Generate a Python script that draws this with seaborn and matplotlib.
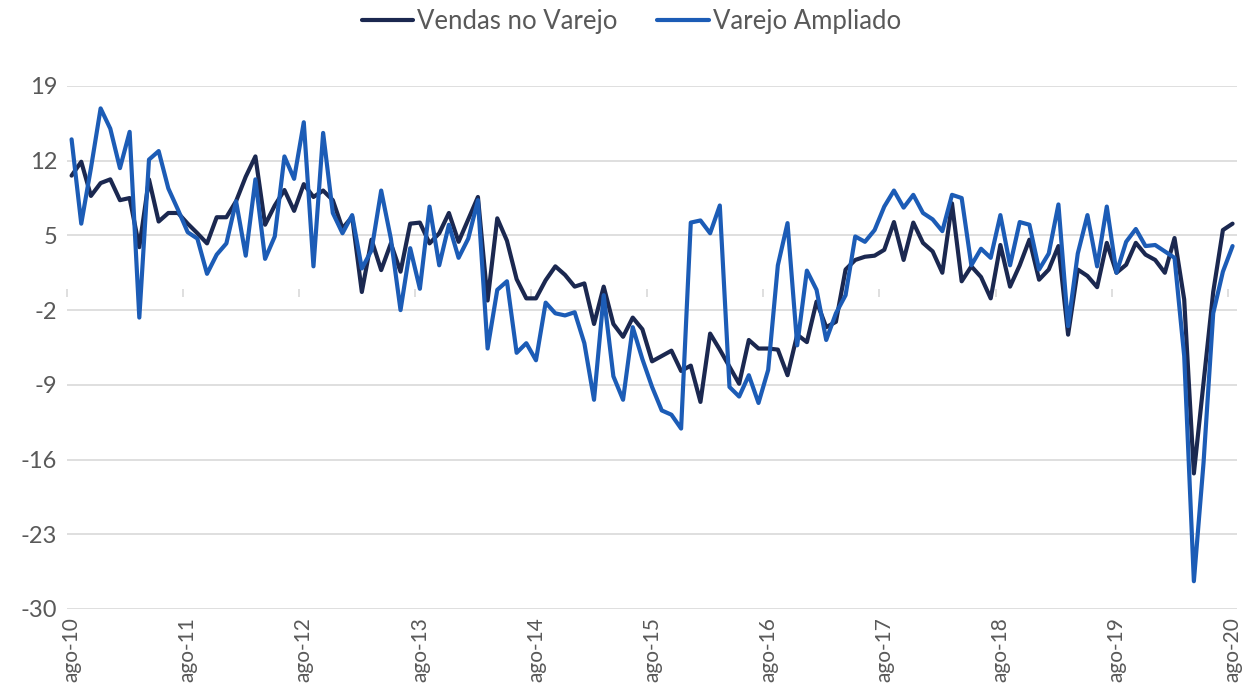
import numpy as np
import pandas as pd
import matplotlib
matplotlib.use("Agg")
import matplotlib.pyplot as plt
import seaborn as sns

# dados mensais ago-10 .. ago-20 (var. % anual)
vendas_varejo = [10.6, 11.9, 8.7, 9.9, 10.25, 8.3, 8.5, 3.9, 10.25, 6.3, 7.1, 7.1,
                 6.1, 5.2, 4.25, 6.7, 6.7, 8.2, 10.5, 12.4, 6.0, 7.8, 9.25, 7.3,
                 9.8, 8.6, 9.2, 8.3, 5.65, 6.75, -0.3, 4.6, 1.75, 4.25, 1.6, 6.1,
                 6.2, 4.25, 5.2, 7.1, 4.4, 6.5, 8.6, -1.1, 6.6, 4.5, 0.9, -0.9,
                 -0.9, 0.8, 2.1, 1.3, 0.2, 0.5, -3.3, 0.2, -3.3, -4.5, -2.7, -3.8,
                 -6.8, -6.3, -5.8, -7.7, -7.2, -10.6, -4.2, -5.7, -7.3, -8.9, -4.8, -5.6,
                 -5.6, -5.7, -8.1, -4.3, -5.0, -1.2, -3.6, -3.1, 1.8, 2.7, 3.0, 3.1,
                 3.65, 6.25, 2.7, 6.2, 4.3, 3.5, 1.5, 8.0, 0.7, 2.1, 1.1, -0.9,
                 4.1, 0.2, 2.2, 4.6, 0.85, 1.8, 4.0, -4.3, 1.8, 1.2, 0.15, 4.3,
                 1.5, 2.25, 4.3, 3.2, 2.7, 1.5, 4.75, -1.0, -17.3, -8.8, -0.3, 5.5,
                 6.1]
varejo_ampliado = [14.0, 6.1, 11.3, 16.9, 15.0, 11.3, 14.7, -2.7, 12.1, 12.9, 9.4, 7.4,
                   5.3, 4.7, 1.4, 3.2, 4.25, 8.2, 3.1, 10.25, 2.8, 4.9, 12.4, 10.3,
                   15.6, 2.1, 14.6, 7.1, 5.2, 6.9, 1.9, 3.6, 9.2, 4.7, -2.0, 3.8,
                   0.0, 7.7, 2.2, 6.0, 2.9, 4.7, 8.3, -5.6, -0.1, 0.7, -6.0, -5.1,
                   -6.7, -1.3, -2.3, -2.5, -2.2, -5.1, -10.4, -0.6, -8.2, -10.4, -3.6, -6.6,
                   -9.2, -11.4, -11.8, -13.1, 6.2, 6.4, 5.2, 7.8, -9.2, -10.1, -8.1, -10.7,
                   -7.6, 2.2, 6.15, -5.3, 1.7, -0.1, -4.8, -2.3, -0.6, 4.9, 4.4, 5.5,
                   7.7, 9.2, 7.6, 8.8, 7.1, 6.5, 5.4, 8.8, 8.5, 2.2, 3.75, 2.9,
                   6.9, 2.2, 6.25, 6.0, 1.8, 3.3, 7.9, -3.5, 3.3, 6.9, 2.1, 7.7,
                   1.5, 4.4, 5.6, 4.0, 4.1, 3.5, 2.9, -6.3, -27.4, -16.3, -2.3, 1.6,
                   4.0]
rotulos_ano = ["ago-10", "ago-11", "ago-12", "ago-13", "ago-14", "ago-15",
               "ago-16", "ago-17", "ago-18", "ago-19", "ago-20"]
series = ["Vendas no Varejo", "Varejo Ampliado"]

meses = np.arange(len(vendas_varejo))
df = pd.DataFrame({
    "mes": np.concatenate([meses, meses]),
    "valor": vendas_varejo + varejo_ampliado,
    "serie": [series[0]] * len(meses) + [series[1]] * len(meses),
})

cores = ["#1B2850", "#1C5CB6"]
cinza = "#595959"
grade = "#D9D9D9"

sns.set_style("white")
plt.rcParams["font.family"] = ["Lato", "DejaVu Sans"]
plt.rcParams["axes.unicode_minus"] = False

fig = plt.figure(figsize=(12.43, 6.85), dpi=100)
ax = fig.add_axes([0.0537, 0.111, 0.9418, 0.7635])

sns.lineplot(data=df, x="mes", y="valor", hue="serie", hue_order=series,
             palette=cores, linewidth=3, errorbar=None, legend=False, ax=ax,
             solid_joinstyle="round", solid_capstyle="round")

# eixos
ax.set_xlim(-0.5, len(meses) - 0.5)
ax.set_ylim(-30, 19)
ax.set_yticks(np.arange(-30, 20, 7))
ax.set_xticks(np.arange(0, len(meses), 12))
ax.set_xticklabels(rotulos_ano, rotation=90)
ax.set_xlabel("")
ax.set_ylabel("")
ax.tick_params(axis="both", length=0, labelcolor=cinza)
ax.tick_params(axis="y", pad=7, labelsize=17)
ax.tick_params(axis="x", pad=6, labelsize=15)
ax.yaxis.grid(True, color=grade, linewidth=1.2)
ax.set_axisbelow(True)
for s in ax.spines.values():
    s.set_visible(False)

# linha do eixo em zero com marcas entre categorias
eixo0 = ax.secondary_xaxis(30 / 49)
eixo0.set_xticks(np.arange(-0.5, len(meses), 12))
eixo0.xaxis.set_ticks_position("bottom")
eixo0.tick_params(axis="x", direction="out", length=6, width=1.2, color=grade,
                  labelbottom=False, labeltop=False)
eixo0.spines["bottom"].set_color(grade)
eixo0.spines["bottom"].set_linewidth(1.2)
eixo0.spines["top"].set_visible(False)

# legenda
fig.legend(ax.get_lines()[:2], series, loc="center", bbox_to_anchor=(0.508, 0.968),
           ncol=2, frameon=False, fontsize=18.5, labelcolor=cinza,
           handlelength=2.0, handletextpad=0.15, columnspacing=1.55)

plt.savefig("out.png", dpi=100)
